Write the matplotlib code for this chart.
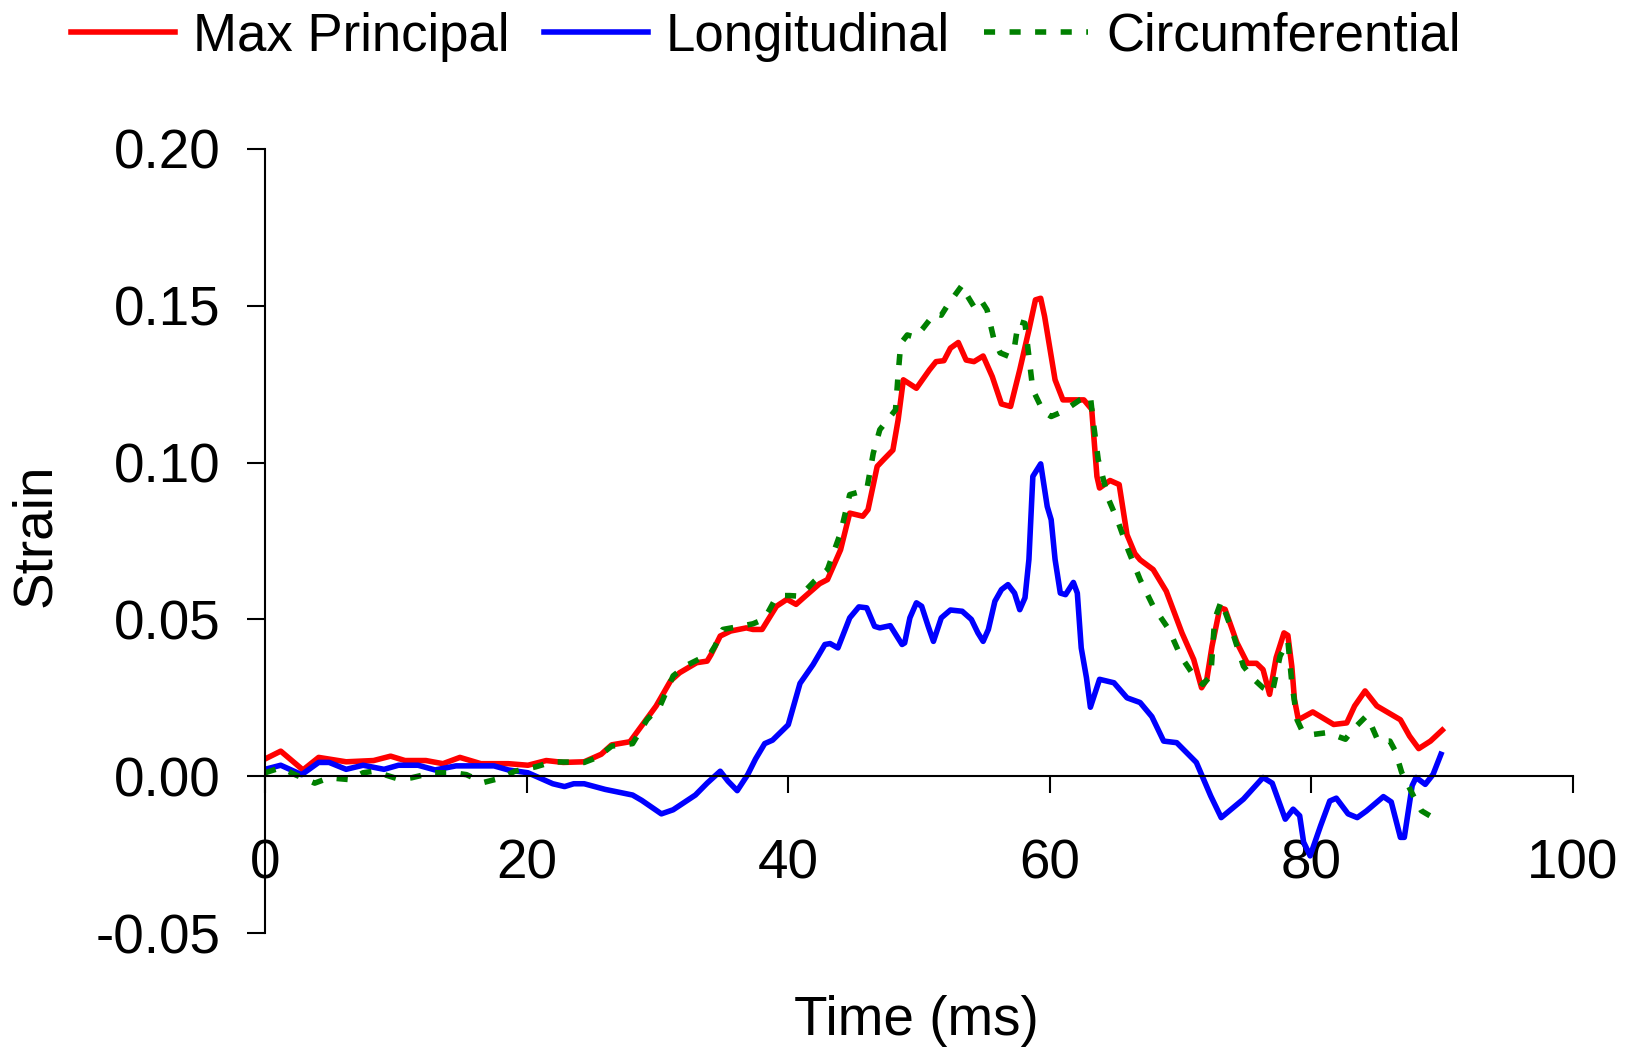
import matplotlib
matplotlib.use('Agg')
import matplotlib.pyplot as plt
import numpy as np

plt.rcParams['font.family'] = ['Liberation Sans', 'DejaVu Sans']
plt.rcParams['font.size'] = 39.5

# time (ms) / strain values
t_max = [0, 1.2, 2.9, 4.1, 6.2, 8.3, 9.6, 10.7, 12.3, 13.6, 14.9, 16.5, 18.6, 20.1, 21.5,
         22.8, 24.4, 25.7, 26.5, 27.9, 29.2, 29.9, 31.0, 31.7, 33.0, 33.8, 34.1, 34.8, 35.6,
         36.8, 37.3, 38.0, 38.4, 39.1, 39.9, 40.6, 41.3, 42.4, 43.0, 44.0, 44.7, 45.7, 46.1,
         46.8, 47.3, 48.0, 48.4, 48.8, 49.8, 50.8, 51.3, 51.9, 52.4, 53.0, 53.6, 54.2, 54.9,
         55.6, 56.3, 57.0, 57.7, 58.4, 58.9, 59.3, 59.6, 60.4, 61.0, 61.8, 62.6, 63.2, 63.6,
         63.8, 64.6, 65.3, 65.9, 66.5, 66.9, 67.9, 68.9, 70.1, 71.0, 71.6, 72.0, 72.4, 73.0,
         73.4, 74.3, 75.1, 75.8, 76.3, 76.8, 77.3, 77.9, 78.2, 78.5, 78.7, 79.0, 80.1, 81.7,
         82.7, 83.3, 84.1, 85.0, 86.8, 87.5, 88.2, 89.1, 90.0]
max_principal = [0.0055, 0.008, 0.002, 0.006, 0.0046, 0.005, 0.0064, 0.005, 0.005, 0.004,
                 0.006, 0.004, 0.004, 0.0035, 0.005, 0.0044, 0.0046, 0.007, 0.010, 0.011,
                 0.0184, 0.0224, 0.0304, 0.033, 0.0362, 0.0367, 0.0388, 0.0447, 0.0463, 0.0473,
                 0.0468, 0.0468, 0.0495, 0.0542, 0.0564, 0.0548, 0.0574, 0.0614, 0.0627, 0.0722,
                 0.0839, 0.0829, 0.085, 0.0988, 0.101, 0.104, 0.1136, 0.1264, 0.1237, 0.1296,
                 0.1322, 0.1325, 0.1365, 0.1383, 0.1327, 0.1322, 0.134, 0.1274, 0.1187, 0.1179,
                 0.1296, 0.1423, 0.1519, 0.1524, 0.1466, 0.1264, 0.12, 0.12, 0.12, 0.117,
                 0.0956, 0.0919, 0.0943, 0.093, 0.077, 0.071, 0.069, 0.0659, 0.059, 0.0457,
                 0.0372, 0.0282, 0.0309, 0.0415, 0.0537, 0.0532, 0.0426, 0.036, 0.036, 0.034,
                 0.0261, 0.0378, 0.0457, 0.0449, 0.035, 0.0245, 0.018, 0.0205, 0.0165, 0.017,
                 0.0224, 0.0272, 0.0224, 0.018, 0.0128, 0.0088, 0.0112, 0.0147]

t_long = [0, 1.2, 2.8, 4.1, 4.9, 6.2, 7.5, 9.1, 10.2, 11.7, 13.0, 14.6, 17.5, 18.6, 20.1,
          22.0, 22.9, 23.6, 24.4, 26.0, 28.1, 28.8, 30.3, 31.2, 32.9, 33.8, 34.8, 35.4, 36.1,
          36.9, 37.5, 38.2, 38.8, 40.0, 40.9, 41.9, 42.8, 43.2, 43.8, 44.7, 45.4, 46.0, 46.6,
          47.0, 47.8, 48.7, 48.9, 49.3, 49.8, 50.2, 50.7, 51.1, 51.7, 52.4, 53.3, 54.0, 54.5,
          54.9, 55.3, 55.8, 56.3, 56.8, 57.3, 57.7, 58.1, 58.4, 58.7, 59.3, 59.8, 60.1, 60.4,
          60.8, 61.2, 61.8, 62.1, 62.4, 62.8, 63.1, 63.8, 64.9, 65.9, 66.9, 67.8, 68.7, 69.7,
          71.2, 72.3, 73.1, 74.8, 76.3, 77.0, 78.0, 78.6, 79.1, 79.4, 79.9, 80.7, 81.4, 81.9,
          82.8, 83.5, 84.2, 85.5, 86.1, 86.8, 87.1, 87.7, 88.0, 88.7, 89.3, 89.9]
longitudinal = [0.0022, 0.0035, 0.0005, 0.0044, 0.0044, 0.0022, 0.0035, 0.0022, 0.0035, 0.0035,
                0.002, 0.0033, 0.0033, 0.002, 0.0011, -0.0024, -0.0033, -0.0024, -0.0024, -0.0042,
                -0.006, -0.0077, -0.012, -0.0107, -0.006, -0.0022, 0.0016, -0.0016, -0.0046, 0.0005,
                0.0055, 0.0104, 0.0115, 0.0164, 0.0296, 0.0356, 0.042, 0.0423, 0.0409, 0.0505,
                0.054, 0.0537, 0.0478, 0.0473, 0.048, 0.042, 0.0425, 0.0505, 0.0553, 0.0542,
                0.0478, 0.043, 0.0505, 0.053, 0.0526, 0.05, 0.0457, 0.043, 0.0468, 0.0558,
                0.0595, 0.0611, 0.0584, 0.0531, 0.0569, 0.0691, 0.0956, 0.0996, 0.086, 0.0818,
                0.0691, 0.0584, 0.0579, 0.0618, 0.0584, 0.0409, 0.0314, 0.022, 0.0309, 0.0298,
                0.025, 0.0235, 0.019, 0.0112, 0.0107, 0.0044, -0.0063, -0.0132, -0.0073, -0.0004,
                -0.0022, -0.0137, -0.0105, -0.0126, -0.021, -0.0254, -0.0158, -0.0079, -0.007, -0.012,
                -0.0132, -0.0111, -0.0065, -0.0082, -0.0195, -0.0195, -0.003, -0.0004, -0.0026, 0.0006,
                0.007]

t_circ = [0, 1.2, 2.3, 3.8, 4.9, 6.5, 7.5, 8.3, 10.2, 11.2, 12.8, 14.4, 15.4, 16.7, 18.1,
          19.1, 20.7, 22.0, 24.4, 25.4, 26.5, 28.1, 29.2, 30.2, 31.2, 32.2, 33.5, 34.0, 34.4,
          35.0, 36.2, 37.3, 38.1, 38.5, 39.0, 39.5, 40.1, 40.9, 42.0, 43.0, 44.0, 44.7, 46.0,
          46.5, 47.0, 47.8, 48.2, 48.4, 48.6, 49.1, 49.7, 50.3, 51.2, 51.7, 52.2, 53.3, 53.5,
          54.2, 54.7, 55.2, 55.7, 56.2, 56.9, 57.3, 57.6, 58.1, 58.4, 58.7, 59.5, 60.1, 61.0,
          62.3, 63.1, 63.3, 63.7, 64.5, 65.2, 66.0, 66.9, 67.9, 69.1, 70.0, 71.2, 71.7, 72.3,
          72.6, 73.1, 73.9, 74.8, 75.6, 76.3, 77.0, 77.6, 78.2, 78.5, 78.9, 79.3, 80.1, 81.2,
          82.6, 83.2, 84.2, 84.6, 85.1, 86.0, 86.4, 86.9, 87.8, 88.4, 89.7]
circumferential = [0.0011, 0.0027, 0.0005, -0.0022, -0.0005, -0.0011, 0.0011, 0.0016, -0.0009,
                   -0.0005, 0.0011, 0.0011, 0.0005, -0.002, -0.0005, 0.0016, 0.003, 0.0046,
                   0.0044, 0.006, 0.0096, 0.0104, 0.018, 0.0224, 0.032, 0.0353, 0.038, 0.0388,
                   0.0415, 0.0468, 0.0477, 0.0486, 0.05, 0.0526, 0.0564, 0.0576, 0.0576, 0.0574,
                   0.0622, 0.0659, 0.0776, 0.0898, 0.0913, 0.103, 0.1105, 0.1147, 0.1168, 0.128,
                   0.138, 0.1407, 0.14, 0.1428, 0.1476, 0.147, 0.1503, 0.1566, 0.1545, 0.1497,
                   0.152, 0.1487, 0.1397, 0.135, 0.1338, 0.137, 0.145, 0.1444, 0.1338, 0.1232,
                   0.1163, 0.1147, 0.1163, 0.12, 0.1211, 0.1136, 0.1009, 0.0882, 0.0813, 0.072,
                   0.0627, 0.0542, 0.0468, 0.0383, 0.0309, 0.0293, 0.032, 0.05, 0.0558, 0.0468,
                   0.0351, 0.0309, 0.0282, 0.0266, 0.0383, 0.0431, 0.0298, 0.018, 0.0144, 0.0133,
                   0.0139, 0.0118, 0.015, 0.0192, 0.016, 0.0112, 0.0112, 0.0081, 0.0012, -0.0063,
                   -0.011, -0.0142]

x_ticks = [0, 20, 40, 60, 80, 100]
y_ticks = [-0.05, 0.00, 0.05, 0.10, 0.15, 0.20]
y_labels = ['-0.05', '0.00', '0.05', '0.10', '0.15', '0.20']

fig = plt.figure(figsize=(16.34, 10.5), dpi=100)
ax = fig.add_axes([0.1622, 0.1114, 0.8005, 0.7467])

lw = 4.0
ax.plot(t_max, max_principal, color='#FF0000', lw=lw, label='Max Principal')
ax.plot(t_long, longitudinal, color='#0000FF', lw=lw, label='Longitudinal')
ax.plot(t_circ, circumferential, color='#008000', lw=lw, linestyle=(0, (2.0, 2.6)),
        label='Circumferential')

ax.set_xlim(0, 100)
ax.set_ylim(-0.05, 0.20)
ax.spines['top'].set_visible(False)
ax.spines['right'].set_visible(False)
ax.spines['bottom'].set_position(('data', 0))
for s in ['left', 'bottom']:
    ax.spines[s].set_linewidth(1.5)

ax.set_xticks(x_ticks)
ax.set_xticklabels([str(v) for v in x_ticks])
ax.set_yticks(y_ticks)
ax.set_yticklabels(y_labels)
ax.tick_params(axis='x', direction='out', length=12, width=1.5, pad=33)
ax.tick_params(axis='y', direction='out', length=13, width=1.5, pad=19)

fig.text(0.022, 0.49, 'Strain', rotation=90, ha='center', va='center')
fig.text(0.561, 0.028, 'Time (ms)', ha='center', va='center')

fig.legend(loc='center left', bbox_to_anchor=(0.0435, 0.965), ncol=3, frameon=False,
           fontsize=38, handlelength=1.97, handletextpad=0.34, columnspacing=0.65,
           borderaxespad=0, borderpad=0)

fig.savefig('out.png', dpi=100)
